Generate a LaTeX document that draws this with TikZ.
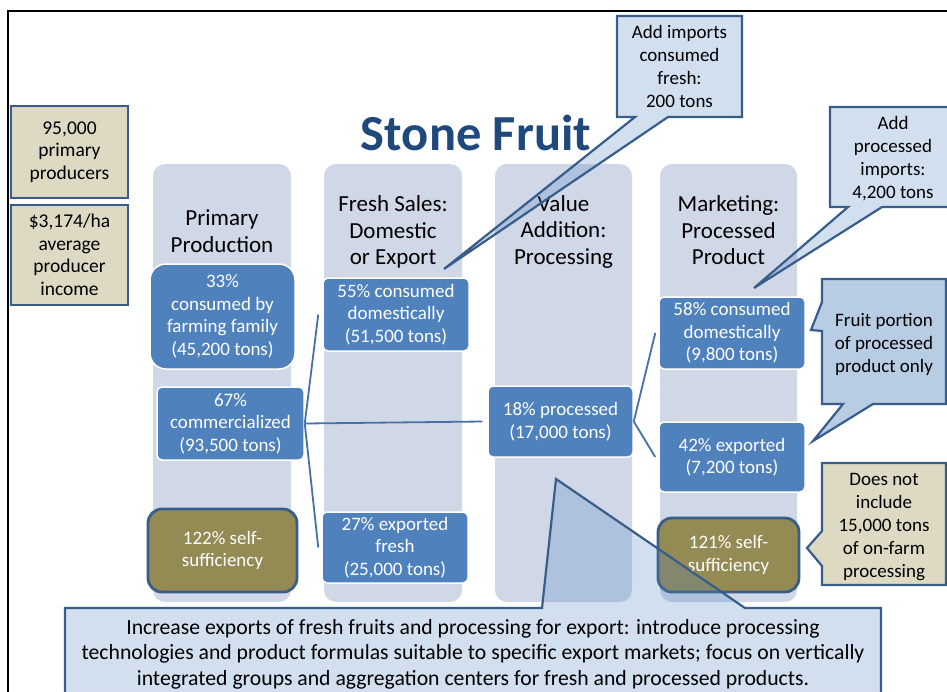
\documentclass[tikz,border=0pt]{standalone}
\usepackage{fontspec}
\setmainfont{Carlito}
\definecolor{colbg}{HTML}{D0D8E8}
\definecolor{stepblue}{HTML}{4F81BD}
\definecolor{olivebox}{HTML}{948A54}
\definecolor{tanbox}{HTML}{DDD9C3}
\definecolor{edgeblue}{HTML}{385D8A}
\definecolor{linkblue}{HTML}{4570A8}
\definecolor{titleblue}{HTML}{1F497D}
\begin{document}
\begin{tikzpicture}[x=1pt,y=-1pt,
  lane/.style={fill=colbg, rounded corners=12pt, inner sep=0pt},
  lanehead/.style={align=center, font=\fontsize{23}{26.5}\selectfont, text=black},
  stepbox/.style={fill=stepblue, draw=white, line width=1.5pt, text=white, inner sep=0pt,
    rounded corners=5pt, align=center, font=\fontsize{19}{22.5}\selectfont},
  selfbox/.style={fill=olivebox, draw=edgeblue, line width=2.8pt, text=white, inner sep=0pt,
    rounded corners=14pt, align=center, font=\fontsize{19}{22.5}\selectfont},
  factbox/.style={fill=tanbox, draw=edgeblue, line width=2.8pt, text=black, inner sep=0pt,
    align=center, font=\fontsize{19.5}{22.5}\selectfont},
  note/.style={align=center, text=black, font=\fontsize{19}{23}\selectfont},
  callout/.style={draw=edgeblue, line width=2.2pt, line join=miter},
  link/.style={draw=linkblue, line width=1.8pt}
]
\clip (0,0) rectangle (947,691);
\fill[white] (0,0) rectangle (947,691);

% outer frame
\draw[black, line width=2pt] (8,11) rectangle (970,720);

% title
\node[text=titleblue, font=\fontsize{50.5}{54}\selectfont\bfseries] (title) at (476,133) {Stone Fruit};

% the four value-chain lanes
\node[lane, minimum width=138pt, minimum height=438pt] (lane1) at (222,383) {};
\node[lane, minimum width=138pt, minimum height=438pt] (lane2) at (393,383) {};
\node[lane, minimum width=137pt, minimum height=438pt] (lane3) at (563.5,383) {};
\node[lane, minimum width=137pt, minimum height=438pt] (lane4) at (728.5,383) {};

\node[lanehead] (h1) at (222,231) {Primary\\Production};
\node[lanehead] (h2) at (393,232) {Fresh Sales:\\Domestic\\or Export};
\node[lanehead] (h3) at (563.5,231.5) {Value\\Addition:\\Processing};
\node[lanehead] (h4) at (728.5,230.5) {Marketing:\\Processed\\Product};

% producer facts
\node[factbox, minimum width=117pt, minimum height=92pt] (producers) at (69.5,152) {95,000\\primary\\producers};
\node[factbox, minimum width=117pt, minimum height=100pt] (income) at (69.5,255) {\$3,174/ha\\average\\producer\\income};

% flow boxes
\node[stepbox, rounded corners=16pt, minimum width=145pt, minimum height=105pt] (farm) at (222.5,316.5)
  {33\%\\consumed by\\farming family\\(45,200 tons)};
\node[stepbox, minimum width=147pt, minimum height=73pt] (comm) at (230.5,423.5)
  {67\%\\commercialized\\(93,500 tons)};
\node[stepbox, minimum width=146pt, minimum height=73pt] (fdom) at (396,314.5)
  {55\% consumed\\domestically\\(51,500 tons)};
\node[stepbox, minimum width=146pt, minimum height=71pt] (fexp) at (395,547.5)
  {27\% exported\\fresh\\(25,000 tons)};
\node[stepbox, minimum width=145pt, minimum height=71pt] (proc) at (560.5,421.5)
  {18\% processed\\(17,000 tons)};
\node[stepbox, minimum width=146pt, minimum height=72pt] (pdom) at (732,333)
  {58\% consumed\\domestically\\(9,800 tons)};
\node[stepbox, minimum width=146pt, minimum height=70pt] (pexp) at (732,457)
  {42\% exported\\(7,200 tons)};

% connectors
\draw[link] (comm.east) -- ([xshift=-4pt]fdom.west);
\draw[link] (comm.east) -- ([xshift=-3pt]fexp.west);
\draw[link] (comm.east) -- ([xshift=-5pt]proc.west);
\draw[link] (proc.east) -- ([xshift=-3pt]pdom.west);
\draw[link] (proc.east) -- ([xshift=-3pt]pexp.west);

% self-sufficiency
\node[selfbox, minimum width=149pt, minimum height=83pt] (ss1) at (222.5,550.5) {122\% self-\\sufficiency};
\node[selfbox, minimum width=141pt, minimum height=74pt] (ss2) at (728.5,555) {121\% self-\\sufficiency};

% callout: fresh imports
\path[callout, fill=stepblue, fill opacity=0.25]
  (617,16) -- (742,16) -- (742,117) -- (668,117) -- (444,269) -- (635,117) -- (617,117) -- cycle;
\node[note] (imp) at (679.5,66) {Add imports\\consumed\\fresh:\\200 tons};

% callout: processed imports
\path[callout, fill=stepblue, fill opacity=0.25]
  (830,107) -- (960,107) -- (960,207) -- (882,207) -- (754,288) -- (848,207) -- (830,207) -- cycle;
\node[note] (pimp) at (893,159) {Add\\processed\\imports:\\4,200 tons};

% callout: fruit portion
\path[callout, fill=stepblue, fill opacity=0.4]
  (822,279) -- (946,279) -- (946,404) -- (873,404) -- (813,441) -- (843,404) -- (822,404)
  -- (822,331) -- (811,330) -- (822,302) -- cycle;
\node[note] (fruit) at (884,344) {Fruit portion\\of processed\\product only};

% callout: on-farm processing
\path[callout, fill=tanbox]
  (822,463) -- (946,463) -- (946,585) -- (822,585) -- (822,566) -- (807,548) -- (822,531) -- cycle;
\node[note] (onfarm) at (884,527) {Does not\\include\\15,000 tons\\of on-farm\\processing};

% callout: recommendation
\path[callout, fill=stepblue, fill opacity=0.25]
  (65,608) -- (542,608) -- (556,479) -- (745,608) -- (881,608) -- (881,720) -- (65,720) -- cycle;
\node[align=center, text=black, font=\fontsize{21.7}{25.5}\selectfont] (rec) at (473,654)
  {Increase exports of fresh fruits and processing for export: introduce processing\\
   technologies and product formulas suitable to specific export markets; focus on vertically\\
   integrated groups and aggregation centers for fresh and processed products.};
\end{tikzpicture}
\end{document}
